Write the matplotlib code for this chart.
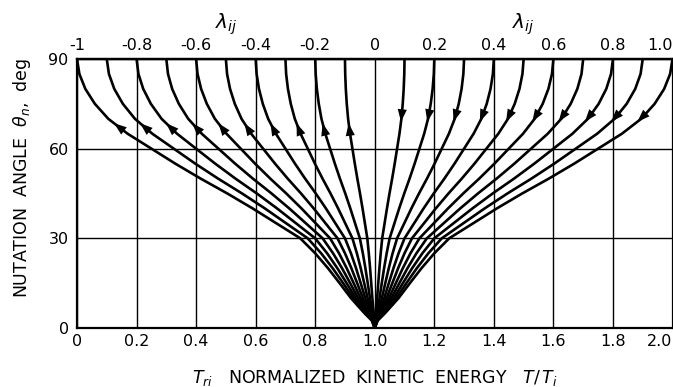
import numpy as np
import matplotlib
matplotlib.use("Agg")
import matplotlib.pyplot as plt

# ---- data ----
lambdas_left = [-1.0, -0.9, -0.8, -0.7, -0.6, -0.5, -0.4, -0.3, -0.2, -0.1]
lambdas_right = [0.1, 0.2, 0.3, 0.4, 0.5, 0.6, 0.7, 0.8, 0.9, 1.0]
# nutation angle (deg) and fraction of the full spread |T/Ti - 1| / |lambda|
profile_theta = [0, 2.5, 5, 10, 15, 20, 25, 30, 35, 40, 45, 50, 55, 60, 65, 70, 75, 80, 85, 90]
profile_frac = [0.0, 0.01, 0.035, 0.08, 0.118, 0.157, 0.20, 0.25, 0.33, 0.41, 0.495,
                0.585, 0.67, 0.75, 0.83, 0.895, 0.94, 0.972, 0.992, 1.0]
arrow_theta_left = 68.5    # arrows point toward larger angle
arrow_theta_right = 69.0   # arrows point toward smaller angle

x_ticks = [0, 0.2, 0.4, 0.6, 0.8, 1.0, 1.2, 1.4, 1.6, 1.8, 2.0]
x_ticklabels = ["0", "0.2", "0.4", "0.6", "0.8", "1.0", "1.2", "1.4", "1.6", "1.8", "2.0"]
top_ticks = [-1, -0.8, -0.6, -0.4, -0.2, 0, 0.2, 0.4, 0.6, 0.8, 1.0]
top_ticklabels = ["-1", "-0.8", "-0.6", "-0.4", "-0.2", "0", "0.2", "0.4", "0.6", "0.8", "1.0"]
y_ticks = [0, 30, 60, 90]
y_ticklabels = ["0", "30", "60", "90"]

W, H = 673, 387
fig = plt.figure(figsize=(W / 100, H / 100), dpi=100)
ax = fig.add_axes([77 / W, 1 - 328 / H, (672.5 - 77) / W, (328 - 59) / H])

ax.set_xlim(0, 2.0)
ax.set_ylim(0, 90)

theta = np.array(profile_theta, dtype=float)
frac = np.array(profile_frac, dtype=float)

def curve_x(lam, th):
    return 1 + lam * np.interp(th, theta, frac)

for lam in lambdas_left + lambdas_right:
    ax.plot(curve_x(lam, theta), theta, color="black", lw=1.9,
            solid_capstyle="butt", solid_joinstyle="round", zorder=3)

arrowprops = dict(arrowstyle="-|>,head_length=0.9,head_width=0.33",
                  color="black", lw=0, mutation_scale=10,
                  shrinkA=0, shrinkB=0)
for lam in lambdas_left:
    tip, tail = arrow_theta_left, arrow_theta_left - 3
    ax.annotate("", xy=(curve_x(lam, tip), tip), xytext=(curve_x(lam, tail), tail),
                arrowprops=arrowprops, zorder=4)
for lam in lambdas_right:
    tip, tail = arrow_theta_right, arrow_theta_right + 3
    ax.annotate("", xy=(curve_x(lam, tip), tip), xytext=(curve_x(lam, tail), tail),
                arrowprops=arrowprops, zorder=4)

# grid
ax.set_xticks(x_ticks, labels=x_ticklabels)
ax.set_yticks(y_ticks, labels=y_ticklabels)
ax.grid(True, color="black", lw=1.0)
ax.set_axisbelow(True)
ax.tick_params(axis="both", length=0, labelsize=11.5)
ax.tick_params(axis="x", pad=4)
ax.tick_params(axis="y", pad=6)
for s in ax.spines.values():
    s.set_linewidth(1.6)
ax.get_xticklabels()[-1].set_horizontalalignment("right")

# top lambda axis
sec = ax.secondary_xaxis("top", functions=(lambda x: x - 1, lambda l: l + 1))
sec.set_xticks(top_ticks, labels=top_ticklabels)
sec.tick_params(length=0, labelsize=11.5, pad=4)
sec.spines["top"].set_linewidth(1.6)
sec.get_xticklabels()[-1].set_horizontalalignment("right")

for xl in (0.5, 1.5):
    ax.text(xl, 101.5, r"$\lambda_{ij}$", fontsize=14.5, ha="center", va="center",
            clip_on=False)

ax.set_xlabel(r"$T_{ri}$   NORMALIZED  KINETIC  ENERGY   $T/\,T_i$", fontsize=12.5)
ax.xaxis.set_label_coords(0.5, -0.15)
ax.set_ylabel(r"NUTATION  ANGLE  $\theta_n$,  deg", fontsize=12.5)
ax.yaxis.set_label_coords(-0.074, 0.556)

fig.savefig("out.png", dpi=100)
